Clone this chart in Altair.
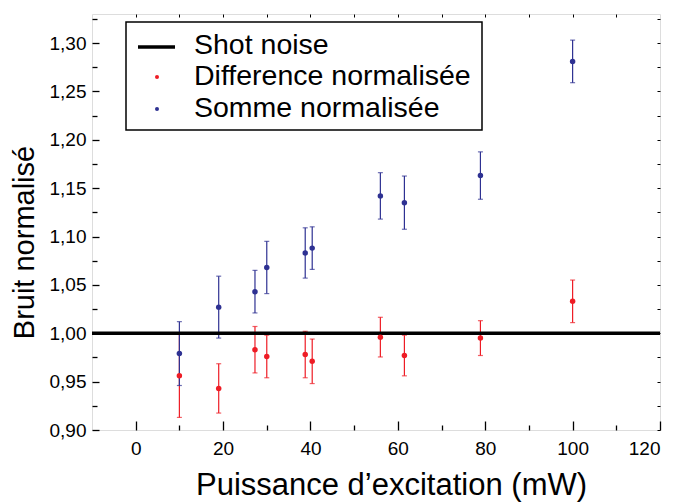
import altair as alt
import pandas as pd

# ---- data ----
power = [10, 19, 27.3, 30, 38.8, 40.4, 56, 61.5, 78.9, 100]
diff = [0.956, 0.943, 0.983, 0.976, 0.978, 0.971, 0.996, 0.977, 0.995, 1.033]
diff_err = [0.043, 0.0255, 0.024, 0.022, 0.024, 0.023, 0.0205, 0.021, 0.018, 0.022]
somme = [0.979, 1.027, 1.043, 1.068, 1.083, 1.088, 1.142, 1.135, 1.163, 1.281]
somme_err = [0.033, 0.032, 0.022, 0.027, 0.026, 0.022, 0.024, 0.0275, 0.0245, 0.022]
series_names = ["Difference normalisée", "Somme normalisée"]
shot_noise_level = 1.0

x_major = [0, 20, 40, 60, 80, 100, 120]
x_minor = [10, 30, 50, 70, 90, 110]
x_top = [0, 10, 20, 30, 40, 50, 60, 70, 80, 90, 100, 110]
y_major = [0.90, 0.95, 1.00, 1.05, 1.10, 1.15, 1.20, 1.25, 1.30]
y_minor = [0.925, 0.975, 1.025, 1.075, 1.125, 1.175, 1.225, 1.275, 1.325]
y_all = sorted(y_major + y_minor)

RED = "#ee1c25"
BLUE = "#2e3192"
FONT = "Liberation Sans"

rows = []
for s, vals, errs in [(series_names[0], diff, diff_err), (series_names[1], somme, somme_err)]:
    for p, v, e in zip(power, vals, errs):
        rows.append({"x": p, "v": v, "lo": v - e, "hi": v + e, "series": s})
df = pd.DataFrame(rows)

xs = alt.Scale(domain=[-10, 120], nice=False, zero=False)
ys = alt.Scale(domain=[0.9, 1.33], nice=False, zero=False)
color = alt.Color("series:N", scale=alt.Scale(domain=series_names, range=[RED, BLUE]), legend=None)

base = alt.Chart(df)

stems = base.mark_rule(strokeWidth=1.2).encode(
    x=alt.X("x:Q", scale=xs, axis=None),
    y=alt.Y("lo:Q", scale=ys, axis=None),
    y2="hi:Q",
    color=color,
)
cap_lo = base.mark_tick(orient="horizontal", size=5, thickness=1.2).encode(
    x=alt.X("x:Q", scale=xs, axis=None), y=alt.Y("lo:Q", scale=ys, axis=None), color=color)
cap_hi = base.mark_tick(orient="horizontal", size=5, thickness=1.2).encode(
    x=alt.X("x:Q", scale=xs, axis=None), y=alt.Y("hi:Q", scale=ys, axis=None), color=color)

shot = alt.Chart(pd.DataFrame({"level": [shot_noise_level]})).mark_rule(
    color="black", strokeWidth=3.5).encode(y=alt.Y("level:Q", scale=ys, axis=None))

points = base.mark_circle(size=30, opacity=1).encode(
    x=alt.X("x:Q", scale=xs, axis=None),
    y=alt.Y("v:Q", scale=ys, axis=None),
    color=color,
)

# ---- axes (each on an invisible layer) ----
inv = base.mark_point(opacity=0)
common = dict(domain=False, grid=False, labelFont=FONT, titleFont=FONT,
              labelColor="black", titleColor="black", tickColor="black")

ax_bottom = inv.encode(
    x=alt.X("x:Q", scale=xs, axis=alt.Axis(
        orient="bottom", values=x_major, ticks=False, labelFontSize=19, labelPadding=9,
        title="Puissance d\u2019excitation (mW)", titleFontSize=31, titleFontWeight="normal",
        titleX=299, titleY=64, titleBaseline="alphabetic", titleAnchor="middle", **common)),
    y=alt.Y("v:Q", scale=ys, axis=None))
ax_bottom_major = inv.encode(
    x=alt.X("x:Q", scale=xs, axis=alt.Axis(
        orient="bottom", values=x_major, labels=False, tickSize=9, tickWidth=1.3, offset=-9,
        title=None, **common)),
    y=alt.Y("v:Q", scale=ys, axis=None))
ax_bottom_minor = inv.encode(
    x=alt.X("x:Q", scale=xs, axis=alt.Axis(
        orient="bottom", values=x_minor, labels=False, tickSize=5, tickWidth=1.3, offset=-5,
        title=None, **common)),
    y=alt.Y("v:Q", scale=ys, axis=None))
ax_top = inv.encode(
    x=alt.X("x:Q", scale=xs, axis=alt.Axis(
        orient="top", values=x_top, labels=False, tickSize=3, tickWidth=1, offset=-3,
        title=None, **common)),
    y=alt.Y("v:Q", scale=ys, axis=None))

ax_left = inv.encode(
    y=alt.Y("v:Q", scale=ys, axis=alt.Axis(
        orient="left", values=y_major, ticks=False, labelFontSize=19, labelPadding=6,
        labelExpr="replace(format(datum.value, '.2f'), '.', ',')",
        title="Bruit normalisé", titleFontSize=29, titleFontWeight="normal",
        titleAngle=-90, titleX=-59, titleY=228, titleBaseline="alphabetic",
        titleAnchor="middle", **common)),
    x=alt.X("x:Q", scale=xs, axis=None))
ax_left_major = inv.encode(
    y=alt.Y("v:Q", scale=ys, axis=alt.Axis(
        orient="left", values=y_major, labels=False, tickSize=7, tickWidth=1.3, offset=-7,
        title=None, **common)),
    x=alt.X("x:Q", scale=xs, axis=None))
ax_left_minor = inv.encode(
    y=alt.Y("v:Q", scale=ys, axis=alt.Axis(
        orient="left", values=y_minor, labels=False, tickSize=5, tickWidth=1.3, offset=-5,
        title=None, **common)),
    x=alt.X("x:Q", scale=xs, axis=None))
ax_right = inv.encode(
    y=alt.Y("v:Q", scale=ys, axis=alt.Axis(
        orient="right", values=y_all, labels=False, tickSize=3, tickWidth=1, offset=-3,
        title=None, **common)),
    x=alt.X("x:Q", scale=xs, axis=None))

# ---- legend ----
one = alt.Chart(pd.DataFrame({"k": [0]}))
leg_box = one.mark_rect(fill="white", stroke="black", strokeWidth=1.5).encode(
    x=alt.value(34), x2=alt.value(390), y=alt.value(8), y2=alt.value(116))
leg_line = one.mark_rule(color="black", strokeWidth=3.5).encode(
    x=alt.value(46), x2=alt.value(83), y=alt.value(33))
leg_red = one.mark_circle(color=RED, size=16, opacity=1).encode(
    x=alt.value(65), y=alt.value(63))
leg_blue = one.mark_circle(color=BLUE, size=16, opacity=1).encode(
    x=alt.value(65), y=alt.value(95))
leg_labels = ["Shot noise"] + series_names
leg_texts = []
for lab, yy in zip(leg_labels, [39.5, 71, 103]):
    leg_texts.append(one.mark_text(align="left", baseline="alphabetic", font=FONT,
                                   fontSize=28.5, color="black").encode(
        x=alt.value(102), y=alt.value(yy), text=alt.value(lab)))

chart = alt.layer(
    ax_bottom, ax_bottom_major, ax_bottom_minor, ax_top,
    ax_left, ax_left_major, ax_left_minor, ax_right,
    stems, cap_lo, cap_hi, shot, points,
    leg_box, leg_line, leg_red, leg_blue, *leg_texts,
).properties(
    width=568, height=416,
    padding={"left": 84, "top": 6, "right": 16, "bottom": 72},
    autosize=alt.AutoSizeParams(type="none"),
).configure_view(
    stroke="black", strokeWidth=1.6
).configure(background="white")

chart.save("out.html", embed_options={"renderer": "svg", "actions": False})
